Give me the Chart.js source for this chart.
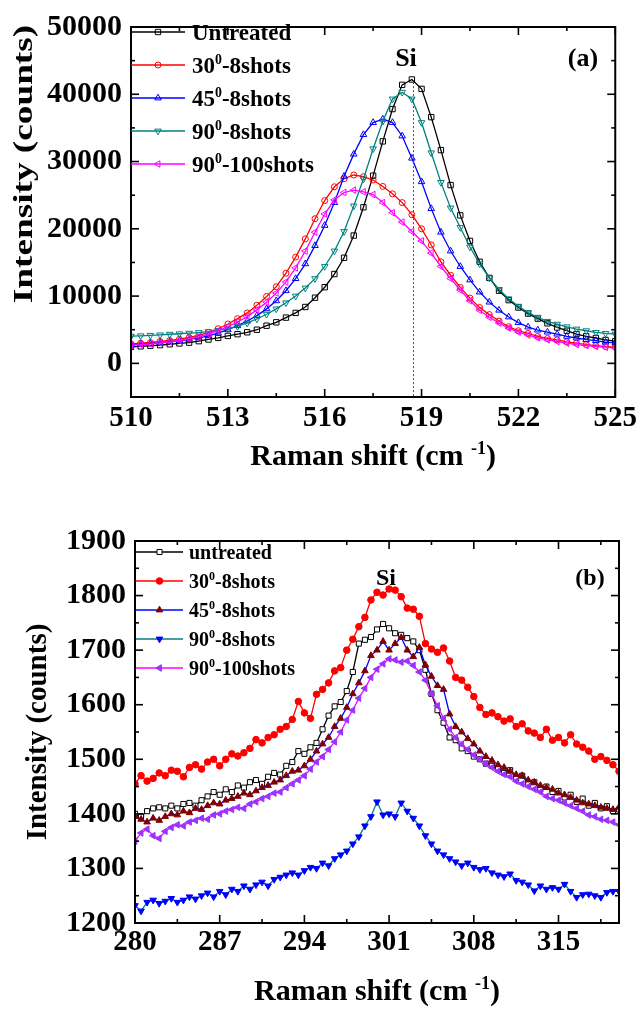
<!DOCTYPE html>
<html><head><meta charset="utf-8">
<script src="https://cdn.jsdelivr.net/npm/chart.js@4.4.1/dist/chart.umd.min.js"></script>
<style>
html,body{margin:0;padding:0;background:#fff;width:641px;height:1010px;overflow:hidden}
canvas{position:absolute;left:0}
#ca{top:0}
#cb{top:505px}
</style></head><body>
<canvas id="ca" width="641" height="505"></canvas>
<canvas id="cb" width="641" height="505"></canvas>
<script>
// ---------- Panel (a) data ----------
const ramanA = [510.0,510.3,510.6,510.9,511.2,511.5,511.8,512.1,512.4,512.7,513.0,513.3,513.6,513.9,514.2,514.5,514.8,515.1,515.4,515.7,516.0,516.3,516.6,516.9,517.2,517.5,517.8,518.1,518.4,518.7,519.0,519.3,519.6,519.9,520.2,520.5,520.8,521.1,521.4,521.7,522.0,522.3,522.6,522.9,523.2,523.5,523.8,524.1,524.4,524.7,525.0];
const untreatedA = [2450,2530,2620,2710,2840,2960,3080,3300,3550,3780,4080,4340,4620,5000,5600,6100,6800,7500,8380,9760,11320,13280,15700,19000,23200,27900,33000,37800,41400,42200,40800,36600,31700,26500,22000,18200,15100,12700,10800,9400,8300,7400,6650,5950,5340,4850,4360,4020,3770,3480,3300];
const deg30A = [2900,3000,3100,3250,3400,3600,3850,4150,4600,5150,5850,6650,7500,8650,9950,11400,13400,15800,18500,21500,24200,26250,27450,28000,27750,27250,26300,25200,23900,22100,20000,17600,15100,13100,11300,9700,8300,7250,6300,5450,4850,4450,4000,3700,3480,3200,3000,2800,2650,2500,2400];
const deg45A = [2750,2850,2950,3050,3200,3350,3550,3800,4100,4500,5000,5600,6300,7100,8100,9300,10800,12600,14800,17500,20500,23900,27800,31100,34000,35800,36300,35800,33800,30500,27000,23000,19500,16700,14400,12400,10600,9100,7900,6900,6050,5400,4950,4650,4350,4020,3770,3530,3380,3150,3050];
const deg90A = [4050,4100,4170,4240,4330,4400,4480,4580,4720,4900,5150,5500,6000,6600,7300,8100,9000,10000,11200,12600,14400,16700,19600,23400,27400,31900,36000,39300,40300,39300,35800,31300,26900,23100,20200,17300,14800,12700,11000,9600,8500,7550,6850,6250,5830,5440,5100,4850,4610,4460,4350];
const deg90x100A = [2700,2800,2900,3050,3200,3400,3650,3950,4350,4850,5450,6150,6950,7950,9100,10450,12100,14200,16700,19500,22200,24300,25400,25750,25500,25100,23900,22400,21000,19600,18200,16400,14400,12600,10900,9300,7900,6850,6000,5250,4650,4200,3800,3500,3250,3000,2800,2650,2500,2400,2300];
const labelsA = ['Untreated','30⁰-8shots','45⁰-8shots','90⁰-8shots','90⁰-100shots'];
const xTicksA = [510,513,516,519,522,525];
const xMinorA = [511.5,514.5,517.5,520.5,523.5];
const yTicksA = [0,10000,20000,30000,40000,50000];
const yMinorA = [-5000,5000,15000,25000,35000,45000];
const siLineA = [518.75, 41800];

// ---------- Panel (b) data ----------
const ramanB = [280,280.5,281,281.5,282,282.5,283,283.5,284,284.5,285,285.5,286,286.5,287,287.5,288,288.5,289,289.5,290,290.5,291,291.5,292,292.5,293,293.5,294,294.5,295,295.5,296,296.5,297,297.5,298,298.5,299,299.5,300,300.5,301,301.5,302,302.5,303,303.5,304,304.5,305,305.5,306,306.5,307,307.5,308,308.5,309,309.5,310,310.5,311,311.5,312,312.5,313,313.5,314,314.5,315,315.5,316,316.5,317,317.5,318,318.5,319,319.5,320];
const untreatedB = [1400,1395,1405,1410,1412,1410,1415,1410,1418,1420,1415,1425,1432,1440,1435,1445,1440,1452,1448,1458,1462,1455,1468,1475,1472,1488,1495,1515,1510,1522,1530,1555,1580,1597,1605,1625,1660,1712,1719,1724,1738,1748,1740,1731,1728,1722,1716,1700,1664,1620,1590,1567,1540,1535,1520,1515,1505,1500,1492,1488,1482,1475,1480,1465,1470,1455,1458,1445,1450,1440,1442,1430,1435,1422,1428,1415,1420,1410,1414,1405,1408];
const deg30B = [1455,1470,1460,1465,1475,1470,1480,1478,1468,1485,1490,1482,1495,1500,1488,1500,1510,1506,1512,1520,1536,1530,1540,1545,1555,1560,1573,1606,1585,1575,1619,1628,1640,1662,1668,1700,1720,1743,1760,1792,1806,1801,1812,1810,1798,1777,1775,1762,1712,1702,1696,1704,1680,1650,1645,1632,1615,1595,1582,1585,1578,1570,1574,1560,1565,1552,1548,1540,1555,1535,1540,1530,1545,1528,1522,1515,1500,1505,1498,1490,1478];
const deg45B = [1395,1390,1385,1392,1388,1395,1400,1398,1405,1402,1410,1408,1415,1420,1418,1425,1428,1432,1438,1435,1442,1448,1452,1458,1462,1470,1478,1480,1488,1500,1515,1528,1540,1560,1575,1595,1620,1640,1662,1690,1700,1716,1700,1712,1723,1700,1688,1705,1673,1652,1635,1628,1583,1560,1550,1538,1528,1515,1505,1498,1490,1485,1478,1472,1470,1462,1458,1452,1448,1445,1438,1435,1430,1425,1420,1418,1415,1412,1410,1408,1412];
const deg90B = [1232,1222,1238,1242,1236,1240,1245,1238,1242,1248,1244,1250,1255,1248,1258,1252,1262,1258,1268,1262,1270,1275,1268,1280,1284,1288,1292,1288,1296,1302,1300,1310,1305,1318,1325,1332,1345,1358,1378,1395,1422,1398,1400,1395,1420,1405,1392,1378,1360,1345,1332,1325,1318,1312,1305,1310,1302,1298,1300,1292,1288,1285,1290,1278,1275,1270,1259,1268,1262,1265,1262,1271,1258,1247,1252,1253,1250,1247,1256,1258,1258];
const deg90x100B = [1350,1365,1372,1360,1355,1368,1375,1380,1378,1385,1388,1392,1390,1398,1400,1405,1408,1412,1410,1418,1422,1428,1432,1438,1440,1448,1455,1462,1470,1482,1495,1505,1518,1532,1550,1572,1590,1612,1630,1650,1665,1675,1684,1682,1678,1680,1672,1660,1645,1620,1598,1575,1555,1540,1528,1518,1508,1500,1492,1485,1478,1472,1468,1460,1455,1450,1445,1440,1432,1428,1425,1420,1415,1410,1405,1398,1395,1390,1388,1385,1380];
const labelsB = ['untreated','30⁰-8shots','45⁰-8shots','90⁰-8shots','90⁰-100shots'];
const xTicksB = [280,287,294,301,308,315];
const xMinorB = [283.5,290.5,297.5,304.5,311.5,318.5];
const yTicksB = [1200,1300,1400,1500,1600,1700,1800,1900];
const yMinorB = [1250,1350,1450,1550,1650,1750,1850];

// ---------- drawing helpers ----------
const FAM = '"Liberation Serif","Times New Roman",serif';
const SUP = {'⁰':'0','⁻':'-','¹':'1'};
function drawRich(ctx, text, x, y, size, align){
  const segs=[]; let cur='', sup=null;
  for(const ch of text){ const s = (ch in SUP); if(sup!==null && s!==sup && cur){segs.push({t:cur,s:sup}); cur='';} sup=s; cur += s?SUP[ch]:ch; }
  if(cur) segs.push({t:cur,s:sup});
  const ss=size*0.6; let w=0;
  segs.forEach(g=>{ctx.font=`bold ${g.s?ss:size}px ${FAM}`; g.w=ctx.measureText(g.t).width; w+=g.w;});
  let cx = align==='center'? x-w/2 : (align==='right'? x-w : x);
  ctx.textBaseline='alphabetic'; ctx.textAlign='left';
  segs.forEach(g=>{ctx.font=`bold ${g.s?ss:size}px ${FAM}`; ctx.fillText(g.t,cx,g.s? y-size*0.36 : y); cx+=g.w;});
}
function seg(ctx,x1,y1,x2,y2){ctx.beginPath();ctx.moveTo(x1,y1);ctx.lineTo(x2,y2);ctx.stroke();}

const decor = {
  id:'decor',
  afterDatasetsDraw(chart, args, o){
    const ctx=chart.ctx, a=chart.chartArea, xs=chart.scales.x, ys=chart.scales.y;
    ctx.save();
    if(o.vline){
      ctx.strokeStyle='#ff0000'; ctx.lineWidth=1; ctx.setLineDash([2,2]);
      const px=Math.round(xs.getPixelForValue(o.vline[0]))+0.5;
      seg(ctx,px,ys.getPixelForValue(o.vline[1]),px,a.bottom);
      ctx.setLineDash([]);
    }
    ctx.strokeStyle='#000'; ctx.lineWidth=2;
    ctx.strokeRect(a.left,a.top,a.right-a.left,a.bottom-a.top);
    ctx.lineWidth=1.6;
    const xt=(vals,len)=>vals.forEach(v=>{const p=xs.getPixelForValue(v); seg(ctx,p,a.bottom,p,a.bottom-len); seg(ctx,p,a.top,p,a.top+len);});
    const yt=(vals,len)=>vals.forEach(v=>{const p=ys.getPixelForValue(v); seg(ctx,a.left,p,a.left+len,p); seg(ctx,a.right,p,a.right-len,p);});
    xt(o.xMajor,8); xt(o.xMinor,4); yt(o.yMajor,8); yt(o.yMinor,4);
    // legend
    const L=o.leg;
    chart.data.datasets.forEach((ds,i)=>{
      const y=L.y0+i*L.dy;
      ctx.strokeStyle=ds.borderColor; ctx.lineWidth=ds.borderWidth;
      seg(ctx,L.x0,y,L.x1,y);
      ctx.fillStyle=ds.pointBackgroundColor; ctx.strokeStyle=ds.pointBorderColor; ctx.lineWidth=1;
      Chart.helpers.drawPoint(ctx,{pointStyle:ds.pointStyle,rotation:ds.pointRotation||0,radius:ds.pointRadius,borderWidth:1},(L.x0+L.x1)/2,y);
      ctx.fillStyle='#000';
      drawRich(ctx,ds.label,L.tx,y+L.size*0.33,L.size,'left');
    });
    ctx.fillStyle='#000';
    o.texts.forEach(t=>drawRich(ctx,t.s,t.x,t.y+t.size*0.33,t.size,'center'));
    // axis titles
    const xt2=o.xTitle; drawRich(ctx,xt2.s,(a.left+a.right)/2,xt2.y+xt2.size*0.33,xt2.size,'center');
    const yt2=o.yTitle;
    ctx.save(); ctx.translate(yt2.x,yt2.y); ctx.rotate(-Math.PI/2); ctx.scale(yt2.sx,1);
    drawRich(ctx,yt2.s,0,yt2.size*0.33,yt2.size,'center'); ctx.restore();
    ctx.restore();
  }
};

function pts(xs,ys){return xs.map((x,i)=>({x:x,y:ys[i]}));}
function ds(label,xs,ys,line,style,rot,fill,edge,r,order){
  return {label:label,data:pts(xs,ys),borderColor:line,borderWidth:1.3,tension:0,
    pointStyle:style,pointRotation:rot,pointRadius:r,pointBackgroundColor:fill,pointBorderColor:edge,pointBorderWidth:1,order:order};
}
function tickFont(size){return {family:FAM,size:size,weight:'bold'};}
function baseScales(xmin,xmax,xt,ymin,ymax,yt,xh,yw,xpad){
  return {
    x:{type:'linear',min:xmin,max:xmax,afterBuildTicks:s=>{s.ticks=xt.map(v=>({value:v}));},afterFit:s=>{s.height=xh;},
       grid:{display:false,drawTicks:false},border:{display:false},
       ticks:{font:tickFont(29),color:'#000',padding:xpad,maxRotation:0,autoSkip:false,callback:v=>String(v)}},
    y:{type:'linear',min:ymin,max:ymax,afterBuildTicks:s=>{s.ticks=yt.map(v=>({value:v}));},afterFit:s=>{s.width=yw;},
       grid:{display:false,drawTicks:false},border:{display:false},
       ticks:{font:tickFont(30),color:'#000',padding:9,autoSkip:false,callback:v=>String(v)}}
  };
}
const T='rgba(0,0,0,0)';
new Chart(document.getElementById('ca'),{
  type:'line',
  data:{datasets:[
    ds(labelsA[0],ramanA,untreatedA,'#000000','rect',0,T,'#000000',3.8,0),
    ds(labelsA[1],ramanA,deg30A,'#ff0000','circle',0,T,'#ff0000',3,-1),
    ds(labelsA[2],ramanA,deg45A,'#0000ff','triangle',0,T,'#0000ff',3.8,-2),
    ds(labelsA[3],ramanA,deg90A,'#008080','triangle',180,T,'#008080',3.8,-3),
    ds(labelsA[4],ramanA,deg90x100A,'#ff00ff','triangle',270,T,'#ff00ff',3.8,-4)
  ]},
  options:{responsive:false,animation:false,devicePixelRatio:1,
    layout:{padding:{top:22,right:23,left:0,bottom:0}},
    scales:baseScales(510,525,xTicksA,-5000,50000,yTicksA,108,131,4),
    plugins:{legend:{display:false},tooltip:{enabled:false},
      decor:{vline:siLineA,xMajor:xTicksA,xMinor:xMinorA,yMajor:yTicksA,yMinor:yMinorA,
        leg:{x0:131,x1:185,tx:192,y0:32,dy:33,size:23},
        texts:[{s:'Si',x:406,y:57,size:26},{s:'(a)',x:583,y:57,size:26}],
        xTitle:{s:'Raman shift (cm ⁻¹)',y:455,size:30},
        yTitle:{s:'Intensity (counts)',x:23,y:164,size:28,sx:1.33}}}
  },
  plugins:[decor]
});
new Chart(document.getElementById('cb'),{
  type:'line',
  data:{datasets:[
    ds(labelsB[0],ramanB,untreatedB,'#000000','rect',0,'#ffffff','#000000',3.6,0),
    ds(labelsB[1],ramanB,deg30B,'#ff0000','circle',0,'#ff0000','#ff0000',3.3,-1),
    ds(labelsB[2],ramanB,deg45B,'#0000ff','triangle',0,'#800000','#800000',3.8,-2),
    ds(labelsB[3],ramanB,deg90B,'#008080','triangle',180,'#0000ff','#0000ff',3.8,-3),
    ds(labelsB[4],ramanB,deg90x100B,'#ff00ff','triangle',270,'#9933ff','#9933ff',3.8,-4)
  ]},
  options:{responsive:false,animation:false,devicePixelRatio:1,
    layout:{padding:{top:36,right:22,left:0,bottom:0}},
    scales:baseScales(280,320,xTicksB,1200,1900,yTicksB,87,135,2),
    plugins:{legend:{display:false},tooltip:{enabled:false},
      decor:{vline:null,xMajor:xTicksB,xMinor:xMinorB,yMajor:yTicksB,yMinor:yMinorB,
        leg:{x0:136,x1:183,tx:189,y0:47,dy:29,size:20},
        texts:[{s:'Si',x:386,y:72,size:24},{s:'(b)',x:590,y:72,size:24}],
        xTitle:{s:'Raman shift (cm ⁻¹)',y:485,size:30},
        yTitle:{s:'Intensity (counts)',x:36,y:227,size:29,sx:1}}}
  },
  plugins:[decor]
});
</script>
</body></html>
